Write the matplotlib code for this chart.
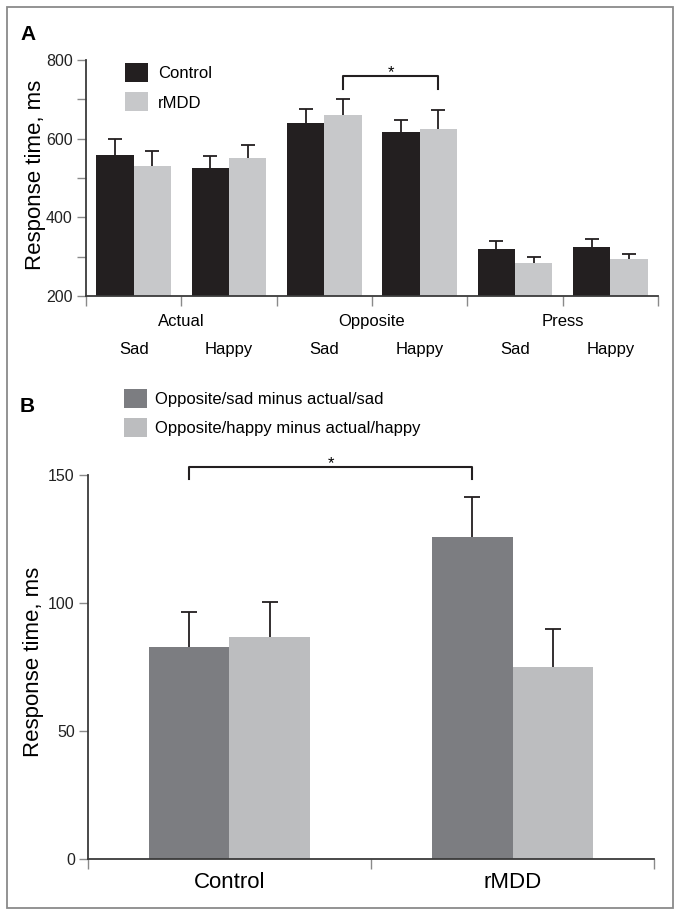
import numpy as np
import matplotlib
matplotlib.use("Agg")
import matplotlib.pyplot as plt
from matplotlib.patches import Patch, Rectangle

plt.rcParams["font.family"] = ["Liberation Sans", "DejaVu Sans"]

# panel A data: response times (ms)
conditions = ["Actual", "Opposite", "Press"]
valences = ["Sad", "Happy", "Sad", "Happy", "Sad", "Happy"]
control_rt = [559, 526, 641, 616, 319, 324]
control_se = [41, 31, 35, 31, 22, 22]
rmdd_rt = [530, 551, 659, 625, 285, 294]
rmdd_se = [38, 34, 43, 48, 13, 14]

# panel B data: difference scores (ms)
groups = ["Control", "rMDD"]
sad_diff = [83.0, 125.9]
sad_diff_se = [13.6, 15.6]
happy_diff = [86.9, 74.9]
happy_diff_se = [13.5, 15.0]

black = "#231f20"
light = "#c7c8ca"
dark_b = "#7c7d81"
light_b = "#bcbdbf"
axis_col = "#3a3a3a"
tick_col = "#8a8a8a"

W, H = 682, 917
fig = plt.figure(figsize=(W / 100, H / 100), dpi=100)

def px(x0, y0, x1, y1):
    # pixel box -> figure fraction [left, bottom, width, height]
    return [x0 / W, 1 - y1 / H, (x1 - x0) / W, (y1 - y0) / H]

def style_axes(ax):
    for s in ["top", "right"]:
        ax.spines[s].set_visible(False)
    for s in ["left", "bottom"]:
        ax.spines[s].set_color(axis_col)
        ax.spines[s].set_linewidth(1.3)
    ax.tick_params(axis="y", which="both", direction="out", length=6.5, width=1,
                   color=tick_col, pad=3, labelsize=11.5, labelcolor="#222222")
    ax.tick_params(axis="x", which="both", direction="out", length=7.5, width=1,
                   color=tick_col, labelbottom=False)

def up_err(ax, xs, ys, errs, cap):
    # one-sided (upward) error bars with a cap only on top
    tops = np.array(ys) + np.array(errs)
    ax.vlines(xs, ys, tops, color=black, lw=1.3, zorder=3)
    ax.plot(xs, tops, ls="none", marker="_", ms=cap, mew=1.3, color=black, zorder=3)

# ---------------- Panel A ----------------
axA = fig.add_axes(px(86, 60, 658, 296))
n = len(control_rt)
x = np.arange(n) + 0.5
w = 0.39
axA.bar(x - w / 2, control_rt, w, color=black, zorder=2, label="Control")
axA.bar(x + w / 2, rmdd_rt, w, color=light, zorder=2, label="rMDD")
up_err(axA, x - w / 2, control_rt, control_se, 10)
up_err(axA, x + w / 2, rmdd_rt, rmdd_se, 10)
axA.set_xlim(0, n)
axA.set_ylim(200, 800)
axA.set_yticks([200, 400, 600, 800])
axA.set_yticks([300, 500, 700], minor=True)
axA.set_xticks(np.arange(n + 1))
style_axes(axA)
axA.set_ylabel("Response time, ms", fontsize=16, va="center")
axA.yaxis.set_label_coords(-0.089, 0.515)

trA = axA.get_xaxis_transform()
for i, c in enumerate(conditions):
    axA.text(2 * i + 1, -0.11, c, transform=trA, ha="center", va="center", fontsize=12)
for i, v in enumerate(valences):
    axA.text(x[i], -0.225, v, transform=trA, ha="center", va="center", fontsize=12)

# significance bracket: opposite/sad vs opposite/happy (rMDD)
bx0, bx1 = x[2] + w / 2, x[3] + w / 2
axA.plot([bx0, bx0, bx1, bx1], [725, 759, 759, 725], color=black, lw=1.5,
         clip_on=False, zorder=4)
axA.text((bx0 + bx1) / 2, 757, "*", ha="center", va="baseline", fontsize=12)

handlesA = [Patch(facecolor=black, edgecolor="none"), Patch(facecolor=light, edgecolor="none")]
axA.legend(handlesA, ["Control", "rMDD"], loc="upper left",
           bbox_to_anchor=(0.068, 0.987), frameon=False, fontsize=12,
           handlelength=1.38, handleheight=1.38, labelspacing=0.62,
           handletextpad=0.6, borderpad=0, borderaxespad=0)

# ---------------- Panel B ----------------
axB = fig.add_axes(px(88, 475, 654, 859))
m = len(groups)
xb = np.arange(m) + 0.5
wb = 0.285
axB.bar(xb - wb / 2, sad_diff, wb, color=dark_b, zorder=2)
axB.bar(xb + wb / 2, happy_diff, wb, color=light_b, zorder=2)
up_err(axB, xb - wb / 2, sad_diff, sad_diff_se, 11)
up_err(axB, xb + wb / 2, happy_diff, happy_diff_se, 11)
axB.set_xlim(0, m)
axB.set_ylim(0, 150)
axB.set_yticks([0, 50, 100, 150])
axB.set_xticks(np.arange(m + 1))
style_axes(axB)
axB.set_ylabel("Response time, ms", fontsize=16, va="center")
axB.yaxis.set_label_coords(-0.096, 0.513)

trB = axB.get_xaxis_transform()
for i, g in enumerate(groups):
    axB.text(xb[i], -0.0625, g, transform=trB, ha="center", va="center", fontsize=16)

# significance bracket: control vs rMDD (sad difference)
cx0, cx1 = xb[0] - wb / 2, xb[1] - wb / 2
axB.plot([cx0, cx0, cx1, cx1], [148.4, 153.1, 153.1, 148.4], color=black, lw=1.5,
         clip_on=False, zorder=4)
axB.text((cx0 + cx1) / 2, 152.6, "*", ha="center", va="baseline", fontsize=12)

handlesB = [Patch(facecolor=dark_b, edgecolor="none"), Patch(facecolor=light_b, edgecolor="none")]
axB.legend(handlesB, ["Opposite/sad minus actual/sad", "Opposite/happy minus actual/happy"],
           loc="upper left", bbox_to_anchor=(0.064, 1.224), frameon=False, fontsize=12,
           handlelength=1.38, handleheight=1.38, labelspacing=0.62,
           handletextpad=0.45, borderpad=0, borderaxespad=0)

# panel letters
fig.text(20 / W, 1 - 40 / H, "A", fontsize=15, fontweight="bold", va="baseline", ha="left")
fig.text(20 / W, 1 - 412 / H, "B", fontsize=15, fontweight="bold", va="baseline", ha="left")

# outer frame
fig.patches.append(Rectangle((7 / W, 1 - 908 / H), 666 / W, 901 / H, transform=fig.transFigure,
                             fill=False, edgecolor="#8a8a8a", lw=1.3))

fig.savefig("out.png", dpi=100)
